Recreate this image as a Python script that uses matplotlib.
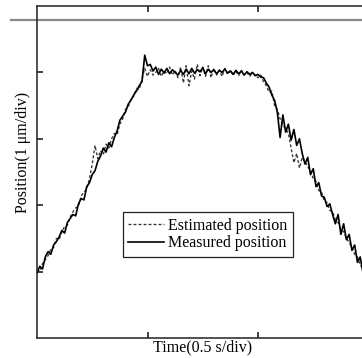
import numpy as np
import matplotlib
matplotlib.use("Agg")
import matplotlib.pyplot as plt

plt.rcParams['font.family'] = ['Liberation Serif', 'DejaVu Serif']

# sampling interval of the traces (in 0.5 s divisions)
dt = 0.025

# measured position (1 um/div)
measured = [0.98, 1.08, 1.04, 1.22, 1.30, 1.26, 1.40, 1.45, 1.52, 1.62,
            1.58, 1.74, 1.80, 1.86, 1.84, 2.02, 2.10, 2.08, 2.28, 2.34,
            2.46, 2.52, 2.66, 2.74, 2.86, 2.80, 2.94, 2.88, 3.02, 3.12,
            3.28, 3.34, 3.40, 3.52, 3.58, 3.66, 3.72, 3.80, 3.86, 4.26,
            4.10, 4.12, 4.02, 4.08, 3.97, 4.05, 3.99, 4.06, 3.98, 4.04,
            4.00, 3.96, 4.03, 3.97, 4.05, 3.98, 4.06, 3.99, 4.04, 4.01,
            4.07, 3.98, 4.05, 4.00, 4.04, 3.98, 4.03, 4.00, 4.05, 3.99,
            4.02, 3.97, 4.03, 3.98, 4.02, 3.96, 4.01, 3.97, 4.00, 3.95,
            3.97, 3.93, 3.92, 3.84, 3.78, 3.66, 3.58, 3.40, 3.02, 3.36,
            3.10, 3.22, 2.98, 3.14, 2.90, 3.00, 2.78, 2.62, 2.72, 2.46,
            2.55, 2.28, 2.34, 2.14, 2.12, 1.98, 2.02, 1.86, 1.72, 1.86,
            1.56, 1.72, 1.48, 1.56, 1.32, 1.40, 1.14, 1.22, 0.98]

# estimated position (1 um/div)
estimated = [1.02, 1.00, 1.12, 1.18, 1.24, 1.34, 1.36, 1.50, 1.48, 1.60,
             1.68, 1.70, 1.82, 1.90, 1.96, 1.98, 2.14, 2.20, 2.24, 2.40,
             2.62, 2.90, 2.70, 2.82, 2.76, 2.92, 2.86, 3.00, 3.08, 3.06,
             3.22, 3.30, 3.44, 3.48, 3.60, 3.64, 3.76, 3.74, 3.90, 4.06,
             3.94, 4.04, 3.96, 4.00, 4.06, 3.94, 4.02, 3.98, 4.08, 3.96,
             4.03, 3.92, 4.08, 3.84, 4.10, 3.80, 4.02, 3.90, 4.12, 3.95,
             4.08, 3.94, 4.10, 3.92, 4.06, 3.96, 4.04, 3.94, 4.06, 3.97,
             4.04, 3.96, 4.02, 3.95, 4.03, 3.96, 4.00, 3.94, 3.99, 3.96,
             3.92, 3.96, 3.86, 3.80, 3.70, 3.72, 3.50, 3.44, 3.30, 3.20,
             3.16, 3.08, 2.86, 2.64, 2.78, 2.56, 2.72, 2.66, 2.58, 2.52,
             2.40, 2.36, 2.22, 2.20, 2.06, 2.04, 1.92, 1.90, 1.78, 1.74,
             1.64, 1.60, 1.50, 1.44, 1.36, 1.26, 1.22, 1.10, 1.04]

ref_level = 4.79          # grey reference line near the top
x_ticks = [1, 2]
y_ticks = [1, 2, 3, 4]

t = np.arange(len(measured)) * dt

fig = plt.figure(figsize=(3.62, 3.58), dpi=100)
ax = fig.add_axes([37 / 362, 20 / 358, 331.5 / 362, 332 / 358])

ax.plot(t, estimated, color='#333333', lw=0.95, ls=(0, (2.2, 1.6)),
        label='Estimated position')
ax.plot(t, measured, color='black', lw=1.2, label='Measured position')
ax.axhline(ref_level, xmin=-0.078, xmax=1, color='#8a8a8a', lw=1.6,
           clip_on=False)

ax.set_xlim(0, 3)
ax.set_ylim(0, 5)
ax.set_xticks(x_ticks)
ax.set_yticks(y_ticks)
ax.set_xticklabels([])
ax.set_yticklabels([])
ax.tick_params(direction='in', length=4, width=1.1, top=True, right=True,
               color='#111111')
for sp in ax.spines.values():
    sp.set_linewidth(1.1)
    sp.set_color('#222222')

ax.set_xlabel('Time(0.5 s/div)', fontsize=11.5)
ax.xaxis.set_label_coords(0.5, -0.004)
ax.set_ylabel('Position(1 μm/div)', fontsize=11.5)
ax.yaxis.set_label_coords(-0.018, 0.56)

ax.legend(loc='upper left', bbox_to_anchor=(0.259, 0.3795), borderaxespad=0,
          fontsize=11.5, frameon=True, fancybox=False, edgecolor='#222222',
          framealpha=1, handlelength=2.2, handletextpad=0.3,
          labelspacing=0.1, borderpad=0.35)
ax.get_legend().get_frame().set_linewidth(0.9)

fig.savefig('out.png', dpi=100)
